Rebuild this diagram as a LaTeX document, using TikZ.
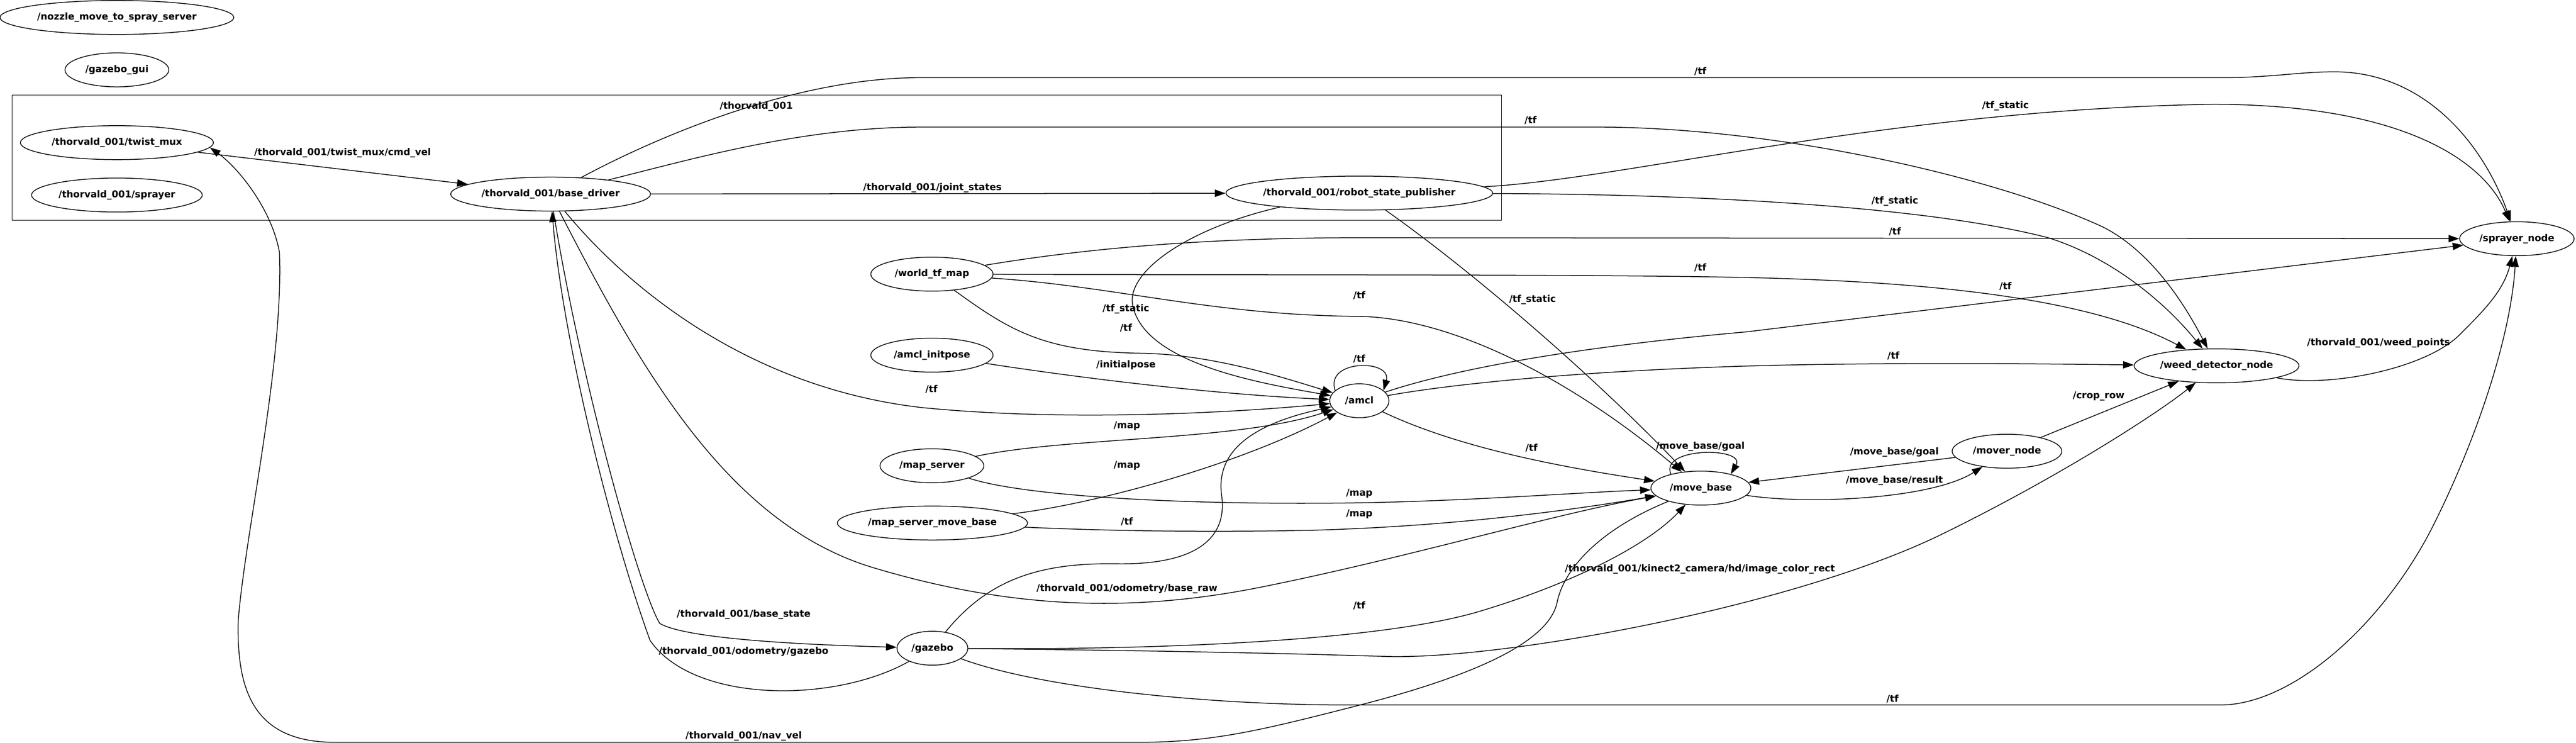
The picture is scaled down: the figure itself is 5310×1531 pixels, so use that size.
\documentclass[tikz,border=0pt]{standalone}
\usepackage{fontspec}
\setmainfont{DejaVu Sans}
\usetikzlibrary{shapes.geometric,arrows.meta}
\begin{document}
\begin{tikzpicture}[x=1pt,y=-1pt,font=\bfseries\fontsize{19.5}{23}\selectfont,
  rosnode/.style={draw,ellipse,line width=1.6pt,inner sep=0pt,minimum height=70pt},
  topic/.style={inner sep=0pt},
  link/.style={line width=1.6pt,-{Triangle[length=22pt,width=15pt]}}]
\useasboundingbox (0,0) rectangle (5310,1531);

\draw[line width=1.6pt] (25,196) rectangle (3095,454);
\node[topic] (clusterlabel) at (1559,220) {/thorvald\_001};

\node[rosnode,minimum width=482pt] (nozzle) at (241,36) {/nozzle\_move\_to\_spray\_server};
\node[rosnode,minimum width=214pt] (gazebogui) at (241,144) {/gazebo\_gui};
\node[rosnode,minimum width=398pt] (twistmux) at (241,294) {/thorvald\_001/twist\_mux};
\node[rosnode,minimum width=352pt] (sprayer) at (241,402) {/thorvald\_001/sprayer};
\node[rosnode,minimum width=412pt] (basedriver) at (1135,400) {/thorvald\_001/base\_driver};
\node[rosnode,minimum width=550pt,inner xsep=-4pt] (rsp) at (2802,398) {/thorvald\_001/robot\_state\_publisher};
\node[rosnode,minimum width=252pt] (worldtf) at (1921,565) {/world\_tf\_map};
\node[rosnode,minimum width=252pt] (initpose) at (1921,732) {/amcl\_initpose};
\node[rosnode,minimum width=122pt] (amcl) at (2802,826) {/amcl};
\node[rosnode,minimum width=214pt] (mapserver) at (1921,960) {/map\_server};
\node[rosnode,minimum width=392pt] (mapservermb) at (1922,1078) {/map\_server\_move\_base};
\node[rosnode,minimum width=146pt] (gazebo) at (1922,1336) {/gazebo};
\node[rosnode,minimum width=206pt] (movebase) at (3506,1006) {/move\_base};
\node[rosnode,minimum width=226pt] (mover) at (4137,930) {/mover\_node};
\node[rosnode,minimum width=340pt] (weed) at (4569,754) {/weed\_detector\_node};
\node[rosnode,minimum width=236pt] (sprayernode) at (5188,492) {/sprayer\_node};

\draw[link] (twistmux) -- (basedriver);
\draw[link] (basedriver) -- (rsp);
\draw[link] (basedriver) .. controls (1320,300) and (1620,160) .. (1898,160) -- (4583,160) .. controls (4680,160) and (4740,148) .. (4812,148) .. controls (5000,148) and (5120,300) .. (sprayernode);
\draw[link] (basedriver) .. controls (1420,330) and (1650,262) .. (1898,262) -- (3295,262) .. controls (3650,262) and (4100,360) .. (4333,467) .. controls (4440,520) and (4510,640) .. (weed);
\draw[link] (basedriver) .. controls (1300,600) and (1550,800) .. (1900,840) .. controls (2200,870) and (2550,850) .. (amcl);
\draw[link] (basedriver) .. controls (1320,760) and (1500,1080) .. (1800,1170) .. controls (2100,1260) and (2350,1260) .. (2600,1210) .. controls (2900,1150) and (3200,1060) .. (movebase);
\draw[link] (basedriver) .. controls (1200,800) and (1320,1220) .. (1360,1285) .. controls (1420,1320) and (1700,1330) .. (gazebo);
\draw[link] (gazebo) .. controls (1720,1450) and (1430,1450) .. (1340,1320) .. controls (1260,1100) and (1160,700) .. (basedriver);

\draw[link] (rsp) .. controls (3350,370) and (3900,225) .. (4561,215) .. controls (4950,215) and (5120,330) .. (sprayernode);
\draw[link] (rsp) .. controls (3450,400) and (3950,420) .. (4222,490) .. controls (4350,530) and (4460,620) .. (weed);
\draw[link] (rsp.190) .. controls (2450,470) and (2320,560) .. (2335,630) .. controls (2360,750) and (2600,790) .. (amcl);
\draw[link] (rsp.327) .. controls (3050,570) and (3300,790) .. (movebase);

\draw[link] (worldtf) .. controls (2250,510) and (2500,490) .. (2800,490) -- (sprayernode);
\draw[link] (worldtf) .. controls (2500,567) and (3300,565) .. (3600,572) .. controls (3950,580) and (4300,610) .. (weed);
\draw[link] (worldtf) .. controls (2300,590) and (2500,650) .. (2800,652) .. controls (3000,655) and (3250,790) .. (movebase);
\draw[link] (worldtf) .. controls (2080,680) and (2150,725) .. (2350,728) .. controls (2500,730) and (2650,780) .. (amcl);
\draw[link] (initpose) .. controls (2300,790) and (2550,815) .. (amcl);

\draw[link] (amcl.157) .. controls (2730,740) and (2870,740) .. (amcl.23);
\draw[link] (amcl) .. controls (3000,760) and (3250,715) .. (3600,684) -- (sprayernode);
\draw[link] (amcl) .. controls (3000,790) and (3300,760) .. (3700,752) .. controls (4000,747) and (4200,750) .. (weed);
\draw[link] (amcl) .. controls (3000,920) and (3200,960) .. (movebase);

\draw[link] (mapserver) .. controls (2200,900) and (2550,910) .. (amcl);
\draw[link] (mapserver) .. controls (2100,1020) and (2400,1040) .. (2750,1037) .. controls (3000,1035) and (3250,1015) .. (movebase);
\draw[link] (mapservermb) .. controls (2250,1040) and (2550,960) .. (amcl);
\draw[link] (mapservermb) .. controls (2300,1095) and (2500,1097) .. (2700,1093) .. controls (3000,1085) and (3250,1050) .. (movebase);

\draw[link] (gazebo) .. controls (2040,1190) and (2150,1160) .. (2300,1162) .. controls (2480,1165) and (2530,1100) .. (2518,1020) .. controls (2505,920) and (2600,870) .. (amcl);
\draw[link] (gazebo) .. controls (2400,1340) and (2850,1320) .. (3050,1260) .. controls (3250,1200) and (3400,1120) .. (movebase);
\draw[link] (gazebo) .. controls (2300,1340) and (2600,1345) .. (2857,1353) .. controls (3100,1360) and (3700,1250) .. (4005,1100) .. controls (4250,980) and (4450,850) .. (weed);
\draw[link] (gazebo) .. controls (2150,1420) and (2500,1453) .. (2776,1453) -- (4577,1453) .. controls (4720,1453) and (4900,1300) .. (5007,1100) .. controls (5100,920) and (5175,700) .. (sprayernode);

\draw[link] (movebase.155) .. controls (3420,921) and (3600,921) .. (movebase.25);
\draw[link] (mover) -- (movebase);
\draw[link] (movebase) .. controls (3720,1040) and (3980,1030) .. (mover);
\draw[link] (mover) -- (weed);
\draw[link] (weed) .. controls (4800,800) and (5000,760) .. (5070,690) .. controls (5120,640) and (5160,600) .. (sprayernode);
\draw[link] (movebase) .. controls (3300,1090) and (3225,1170) .. (3210,1240) .. controls (3195,1320) and (3050,1390) .. (2796,1455) .. controls (2600,1505) and (2500,1530) .. (2345,1530) -- (691,1530) .. controls (520,1530) and (488,1420) .. (491,1280) .. controls (505,1100) and (585,750) .. (576,520) .. controls (560,430) and (490,345) .. (twistmux.357);

\node[topic] (tcmdvel) at (706,315) {/thorvald\_001/twist\_mux/cmd\_vel};
\node[topic] (tjoint) at (1922,387) {/thorvald\_001/joint\_states};
\node[topic] (ttfa) at (3505,147) {/tf};
\node[topic] (ttfb) at (3155,248) {/tf};
\node[topic] (ttfstatica) at (4134,218) {/tf\_static};
\node[topic] (ttfstaticb) at (3906,415) {/tf\_static};
\node[topic] (ttfc) at (3906,477) {/tf};
\node[topic] (ttfd) at (3505,552) {/tf};
\node[topic] (ttfe) at (4134,590) {/tf};
\node[topic] (ttff) at (2802,609) {/tf};
\node[topic] (ttfstaticc) at (3159,618) {/tf\_static};
\node[topic] (ttfstaticd) at (2321,637) {/tf\_static};
\node[topic] (ttfg) at (2321,676) {/tf};
\node[topic] (ttfh) at (2802,740) {/tf};
\node[topic] (tinitial) at (2321,752) {/initialpose};
\node[topic] (ttfi) at (1920,802) {/tf};
\node[topic] (ttfj) at (3903,733) {/tf};
\node[topic] (tweedpts) at (4903,707) {/thorvald\_001/weed\_points};
\node[topic] (tcroprow) at (4326,817) {/crop\_row};
\node[topic] (tmapa) at (2323,878) {/map};
\node[topic] (tmapb) at (2323,960) {/map};
\node[topic] (tmapc) at (2802,1017) {/map};
\node[topic] (tmapd) at (2802,1060) {/map};
\node[topic] (ttfk) at (3157,923) {/tf};
\node[topic] (tgoala) at (3505,920) {/move\_base/goal};
\node[topic] (tgoalb) at (3905,932) {/move\_base/goal};
\node[topic] (tresult) at (3905,990) {/move\_base/result};
\node[topic] (ttfl) at (2323,1075) {/tf};
\node[topic] (tkinect) at (3504,1173) {/thorvald\_001/kinect2\_camera/hd/image\_color\_rect};
\node[topic] (tbaseraw) at (2323,1213) {/thorvald\_001/odometry/base\_raw};
\node[topic] (ttfm) at (2802,1248) {/tf};
\node[topic] (tbasestate) at (1533,1267) {/thorvald\_001/base\_state};
\node[topic] (todomgz) at (1533,1343) {/thorvald\_001/odometry/gazebo};
\node[topic] (ttfn) at (3901,1440) {/tf};
\node[topic] (tnavvel) at (1533,1517) {/thorvald\_001/nav\_vel};
\end{tikzpicture}
\end{document}
